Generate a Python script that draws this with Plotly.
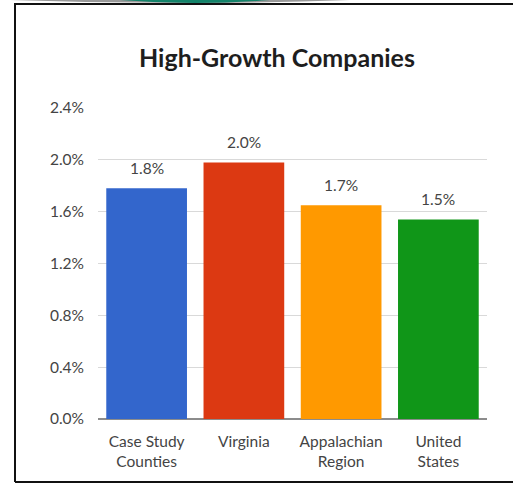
import plotly.graph_objects as go

categories = ["Case Study<br>Counties", "Virginia", "Appalachian<br>Region", "United<br>States"]
values = [1.78, 1.98, 1.65, 1.54]
labels = ["1.8%", "2.0%", "1.7%", "1.5%"]
colors = ["#3366CC", "#DC3912", "#FF9900", "#109618"]
y_ticks = [0.0, 0.4, 0.8, 1.2, 1.6, 2.0, 2.4]
y_tick_text = ["0.0%", "0.4%", "0.8%", "1.2%", "1.6%", "2.0%", "2.4%"]

W, H = 513, 484
L, R, T, B = 98, 26, 108, 65
pw, ph = W - L - R, H - T - B
FONT = "Lato, Open Sans, sans-serif"

def px(x):
    return (x - L) / pw

def py(y):
    return (H - B - y) / ph

fig = go.Figure(go.Bar(
    x=categories, y=values, marker_color=colors, marker_line_width=0,
    width=0.83, hoverinfo="skip",
))

annotations = [
    dict(x=c, y=v, text=t, showarrow=False, xanchor="center", yanchor="bottom", yshift=9,
         font=dict(family=FONT, size=15.5, color="#444444"))
    for c, v, t in zip(categories, values, labels)
]

shapes = [
    dict(type="line", xref="paper", yref="paper", x0=px(15), x1=px(15), y0=py(3), y1=py(482),
         line=dict(color="#111111", width=2)),
    dict(type="line", xref="paper", yref="paper", x0=px(15), x1=px(520), y0=py(4), y1=py(4),
         line=dict(color="#111111", width=2)),
    dict(type="line", xref="paper", yref="paper", x0=px(15), x1=px(520), y0=py(482), y1=py(482),
         line=dict(color="#111111", width=2)),
    dict(type="path", xref="paper", yref="paper",
         path=f"M {px(10)},{py(0)} Q {px(180)},{py(6)} {px(350)},{py(0)} Z",
         fillcolor="#9a9a9a", line=dict(width=0)),
    dict(type="path", xref="paper", yref="paper",
         path=f"M {px(120)},{py(0)} Q {px(195)},{py(6)} {px(270)},{py(0)} Z",
         fillcolor="#13836a", line=dict(width=0)),
]

fig.update_layout(
    width=W, height=H,
    margin=dict(l=L, r=R, t=T, b=B),
    paper_bgcolor="white", plot_bgcolor="white",
    showlegend=False,
    bargap=0.17,
    title=dict(text="<b>High-Growth Companies</b>", x=277 / W, xanchor="center", xref="container",
               y=(H - 58) / H, yanchor="middle", yref="container",
               font=dict(family=FONT, size=25, color="#1e1e1e")),
    font=dict(family=FONT, size=15.5, color="#444444"),
    xaxis=dict(showgrid=False, showline=False, ticks="", ticklabelstandoff=11,
               tickfont=dict(size=15.5, color="#444444")),
    yaxis=dict(range=[0, 2.4], tickvals=y_ticks, ticktext=y_tick_text,
               showgrid=True, gridcolor="#d9d9d9", gridwidth=1,
               zeroline=True, zerolinecolor="#8c8c8c", zerolinewidth=1.5,
               showline=False, ticks="", ticklabelstandoff=13,
               tickfont=dict(size=15.5, color="#444444")),
    shapes=shapes,
    annotations=annotations,
)

fig.write_html("out.html", config={"displayModeBar": False},
               post_script="document.body.style.margin='0';document.body.style.overflow='hidden';")
